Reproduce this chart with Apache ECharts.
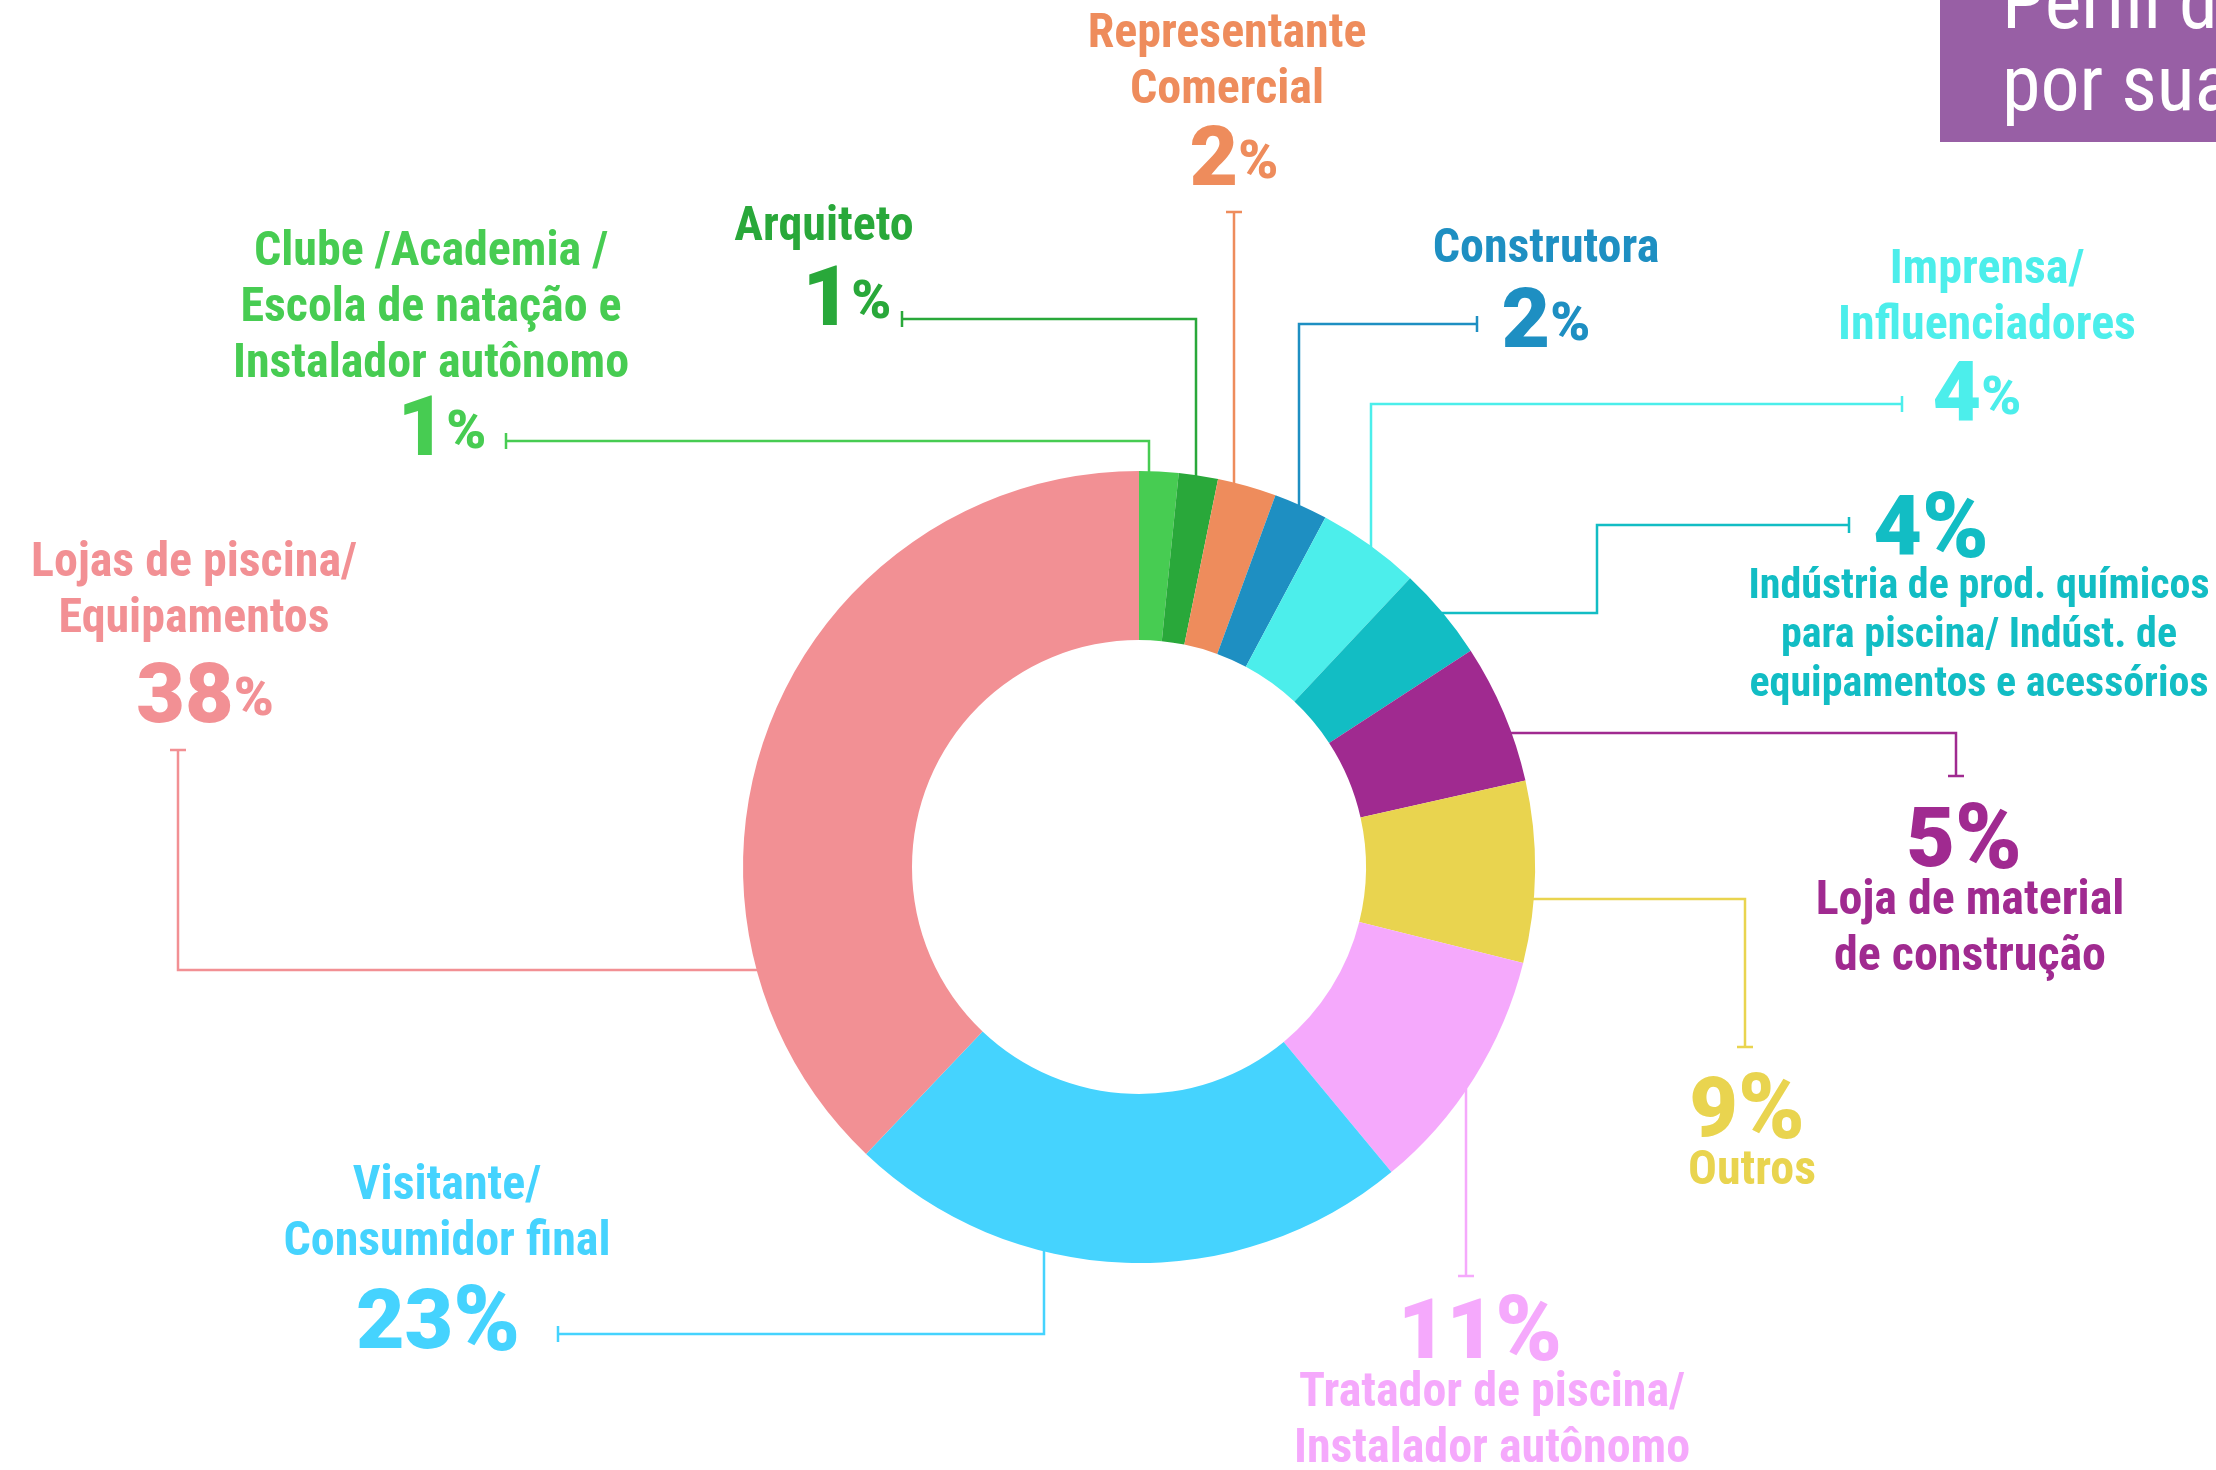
<!DOCTYPE html>
<html lang="pt-BR">
<head>
<meta charset="utf-8">
<title>Perfil dos visitantes</title>
<script src="https://cdn.jsdelivr.net/npm/echarts@6/dist/echarts.min.js"></script>
<style>
  html, body { margin: 0; padding: 0; background: #fff; }
  #graficoPerfil { width: 2216px; height: 1470px; }
</style>
</head>
<body>
<div id="graficoPerfil"></div>
<script>
// Dados do gráfico (na ordem horária, começando no topo)
const categorias = [
    'Clube /Academia /\nEscola de natação e\nInstalador autônomo',
    'Arquiteto',
    'Representante\nComercial',
    'Construtora',
    'Imprensa/\nInfluenciadores',
    'Indústria de prod. químicos\npara piscina/ Indúst. de\nequipamentos e acessórios',
    'Loja de material\nde construção',
    'Outros',
    'Tratador de piscina/\nInstalador autônomo',
    'Visitante/\nConsumidor final',
    'Lojas de piscina/\nEquipamentos'
];
// tamanho das fatias
const valores = [1.6, 1.6, 2.4, 2.2, 4.2, 3.8, 5.7, 7.4, 10.1, 23.1, 37.9];
// porcentagem escrita no rótulo
const porcentagens = [1, 1, 2, 2, 4, 4, 5, 9, 11, 23, 38];
const cores = [
    '#47cc52', '#29a83a', '#ee8c5c', '#1e8fc2', '#4ceeeb', '#12bdc4',
    '#a02a90', '#e9d44f', '#f5a9fc', '#45d3fe', '#f29094'
];

// Layout (px)
const CX = 1139, CY = 867, R_INT = 227, R_EXT = 396;
const FONTE = "'Roboto Condensed', 'Open Sans Condensed', Roboto, sans-serif";
const FONTE_NUM = "Roboto, 'Roboto Condensed', sans-serif";

// posição do rótulo: [centro x, topo y]
const posRotulos = [
    [431, 225], [824, 200], [1227, 7], [1546, 222], [1987, 243], [1979, 505],
    [1970, 816], [1752, 1086], [1492, 1308], [447, 1159], [194, 536]
];
// deslocamento horizontal da linha do "%" e altura dessa linha
const deslocPct = [11, 23, 7, 0, -10, -48, -6, -5, -12, -9, 11];
const alturaPct = [82, 96, 90, 96, 90, 58, 58, 58, 58, 112, 106];
const pctAcima = [5, 6, 7, 8];       // porcentagem em cima do texto
const pctGrande = [5, 6, 7, 8, 9];   // "%" grande

// linhas guia: [lado do anel, coordenada, ...movimentos]
const rotas = [
    ['top', 1149, ['y', 441], ['x', 506]],
    ['top', 1196, ['y', 319], ['x', 902]],
    ['top', 1234, ['y', 212]],
    ['top', 1299, ['y', 324], ['x', 1477]],
    ['top', 1371, ['y', 404], ['x', 1902]],
    ['right', 613, ['x', 1597], ['y', 525], ['x', 1849]],
    ['right', 733, ['x', 1956], ['y', 776]],
    ['right', 899, ['x', 1745], ['y', 1047]],
    ['bottom', 1466, ['y', 1276]],
    ['bottom', 1044, ['y', 1334], ['x', 558]],
    ['left', 970, ['x', 178], ['y', 750]]
];

function linhaGuia(rota) {
    const [lado, c, ...movs] = rota;
    const r = R_EXT - 1;
    let p;
    if (lado === 'top' || lado === 'bottom') {
        const h = Math.sqrt(r * r - (c - CX) * (c - CX));
        p = [c, lado === 'top' ? CY - h : CY + h];
    } else {
        const w = Math.sqrt(r * r - (c - CY) * (c - CY));
        p = [lado === 'right' ? CX + w : CX - w, c];
    }
    const pts = [p];
    let vertical = lado === 'top' || lado === 'bottom';
    movs.forEach(([eixo, v]) => {
        const ult = pts[pts.length - 1];
        pts.push(eixo === 'x' ? [v, ult[1]] : [ult[0], v]);
        vertical = eixo === 'y';
    });
    // tracinho no final da linha
    const fim = pts[pts.length - 1];
    const T = 8;
    if (vertical) {
        pts.push([fim[0] - T, fim[1]], [fim[0] + T, fim[1]]);
    } else {
        pts.push([fim[0], fim[1] - T], [fim[0], fim[1] + T]);
    }
    return pts;
}

function richDe(i) {
    const menor = i === 5;
    const d = deslocPct[i];
    const base = { fontWeight: 'bold', color: cores[i] };
    return {
        t: Object.assign({}, base, { fontFamily: FONTE, fontSize: menor ? 42 : 48, lineHeight: menor ? 49 : 56 }),
        n: Object.assign({}, base, {
            fontFamily: FONTE_NUM, fontWeight: 900, fontSize: 84, lineHeight: alturaPct[i],
            padding: [0, 0, 0, d > 0 ? 2 * d : 0]
        }),
        p: Object.assign({}, base, {
            fontFamily: FONTE_NUM, fontWeight: 900,
            fontSize: pctGrande.includes(i) ? 90 : 54, lineHeight: alturaPct[i],
            padding: [0, d < 0 ? -2 * d : 0, 0, 0]
        })
    };
}

function textoRotulo(i) {
    const linhas = categorias[i].split('\n').map(l => '{t|' + l + '}');
    const pct = '{n|' + porcentagens[i] + '}{p|%}';
    return pctAcima.includes(i) ? [pct].concat(linhas).join('\n') : linhas.concat([pct]).join('\n');
}

const dadosPizza = categorias.map((nome, i) => ({
    name: nome,
    value: valores[i],
    itemStyle: { color: cores[i] },
    label: { formatter: textoRotulo(i), rich: richDe(i), color: cores[i] },
    labelLine: { lineStyle: { color: cores[i] } }
}));

const grafico = echarts.init(document.getElementById('graficoPerfil'));

const option = {
    animation: false,
    backgroundColor: '#ffffff',
    graphic: [
        { type: 'rect', x: 1940, y: 0, shape: { width: 276, height: 142 }, style: { fill: '#985fa5' } },
        {
            type: 'text', x: 2002, y: 8,
            style: { text: 'Perfil dos', fill: '#ffffff', font: '78px ' + FONTE, verticalAlign: 'middle' }
        },
        {
            type: 'text', x: 2002, y: 90,
            style: { text: 'por sua', fill: '#ffffff', font: '78px ' + FONTE, verticalAlign: 'middle' }
        }
    ],
    series: [
        {
            type: 'pie',
            center: [CX, CY],
            radius: [R_INT, R_EXT],
            startAngle: 90,
            clockwise: true,
            avoidLabelOverlap: false,
            silent: true,
            label: { show: true, position: 'outside' },
            labelLine: { show: true, length: 10, length2: 10, lineStyle: { width: 2.5 } },
            labelLayout: function (params) {
                const i = params.dataIndex;
                return {
                    x: posRotulos[i][0],
                    y: posRotulos[i][1],
                    align: 'center',
                    verticalAlign: 'top',
                    labelLinePoints: linhaGuia(rotas[i])
                };
            },
            data: dadosPizza
        }
    ]
};

grafico.setOption(option);
</script>
</body>
</html>
